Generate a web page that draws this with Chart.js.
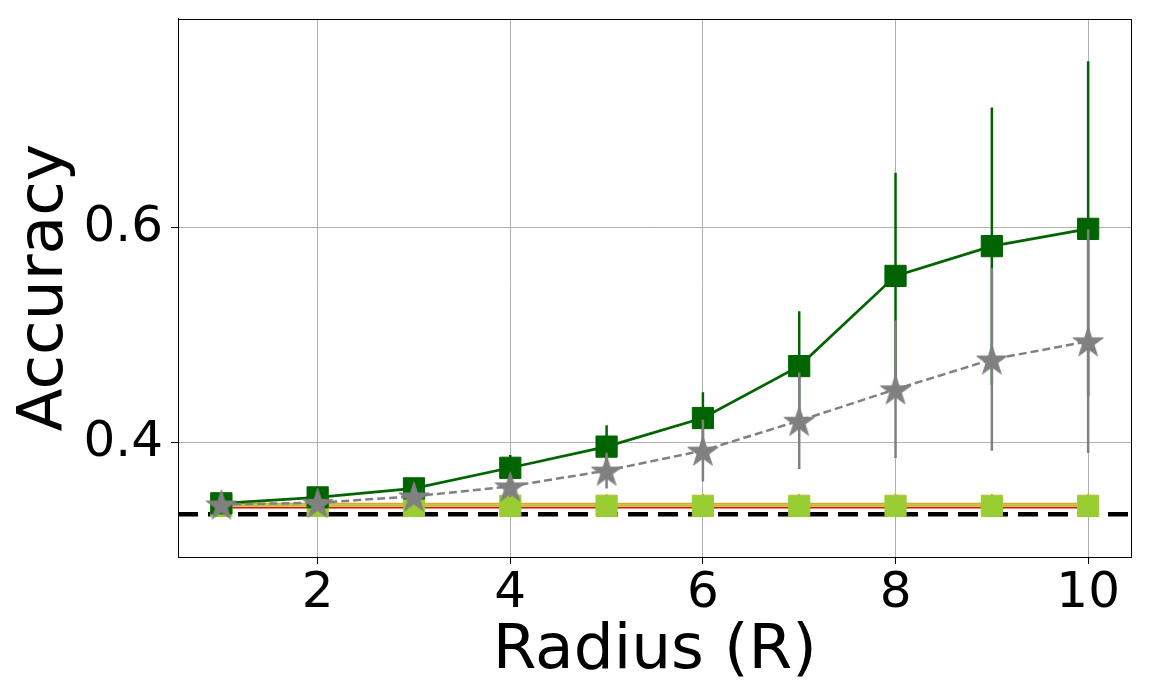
<!DOCTYPE html>
<html>
<head>
<meta charset="utf-8">
<script src="https://cdn.jsdelivr.net/npm/chart.js@4/dist/chart.umd.min.js"></script>
<style>
  html, body { margin: 0; padding: 0; background: #ffffff; }
  #wrap { width: 1150px; height: 700px; }
</style>
</head>
<body>
<div id="wrap"><canvas id="c" width="1150" height="700"></canvas></div>
<script>
// ---- data ----
const radius = [1, 2, 3, 4, 5, 6, 7, 8, 9, 10];
const greenAcc = [0.3435, 0.349, 0.3574, 0.3766, 0.3963, 0.4229, 0.4713, 0.5553, 0.5830, 0.5991];
const greenErr = [0.002, 0.003, 0.005, 0.012, 0.020, 0.024, 0.051, 0.096, 0.129, 0.156];
const grayAcc = [0.3425, 0.344, 0.350, 0.3593, 0.374, 0.3926, 0.4204, 0.4497, 0.4775, 0.4944];
const grayErr = [0.002, 0.003, 0.006, 0.010, 0.0166, 0.0287, 0.045, 0.064, 0.085, 0.104];
const yellowGreenAcc = [0.3412, 0.3412, 0.3412, 0.3412, 0.3412, 0.3412, 0.3412, 0.3412, 0.3412, 0.3412];
const orangeAcc = [0.3431, 0.3431, 0.3431, 0.3431, 0.3431, 0.3431, 0.3431, 0.3431, 0.3431, 0.3431];
const orangeErr = [0.009, 0.009, 0.009, 0.009, 0.009, 0.009, 0.009, 0.009, 0.009, 0.009];
const redAcc = [0.3394, 0.3394, 0.3394, 0.3394, 0.3394, 0.3394, 0.3394, 0.3394, 0.3394, 0.3394];
const chanceLevel = 0.3333;
const xTicks = [2, 4, 6, 8, 10];
const yTicks = [0.4, 0.6];
const xLimits = [0.55, 10.45];
const yLimits = [0.2935, 0.795];

// ---- helpers ----
function points(xs, ys) { return xs.map((x, i) => ({ x: x, y: ys[i] })); }
function errSegments(xs, ys, es) {
  const out = [];
  xs.forEach((x, i) => {
    out.push({ x: x, y: ys[i] - es[i] });
    out.push({ x: x, y: ys[i] + es[i] });
    out.push({ x: x, y: null });
  });
  return out;
}
function starImage(color, R) {
  const s = Math.ceil(R * 2 + 2);
  const cv = document.createElement('canvas');
  cv.width = s; cv.height = s;
  const g = cv.getContext('2d');
  const cx = s / 2, cy = s / 2 + R * 0.1, r = R * 0.382;
  g.beginPath();
  for (let k = 0; k < 10; k++) {
    const a = -Math.PI / 2 + k * Math.PI / 5;
    const rr = (k % 2 === 0) ? R : r;
    const px = cx + rr * Math.cos(a), py = cy + rr * Math.sin(a);
    if (k === 0) g.moveTo(px, py); else g.lineTo(px, py);
  }
  g.closePath();
  g.fillStyle = color;
  g.fill();
  g.lineWidth = 1;
  g.strokeStyle = color;
  g.stroke();
  return cv;
}

const FONT = "'DejaVu Sans', 'Liberation Sans', sans-serif";
const star = starImage('#808080', 16);

const frame = {
  id: 'frame',
  afterDraw(chart) {
    const a = chart.chartArea, ctx = chart.ctx;
    ctx.save();
    ctx.strokeStyle = '#000000';
    ctx.lineWidth = 1;
    ctx.strokeRect(Math.round(a.left) + 0.5, Math.round(a.top) + 0.5,
                   Math.round(a.right - a.left) - 1, Math.round(a.bottom - a.top) - 1);
    ctx.restore();
  }
};

new Chart(document.getElementById('c'), {
  type: 'line',
  data: {
    datasets: [
      { // gray stars, dashed
        data: points(radius, grayAcc),
        borderColor: '#808080', borderWidth: 2.5, borderDash: [8, 4],
        pointStyle: star, pointRadius: 16,
        backgroundColor: '#808080', pointBorderColor: '#808080'
      },
      { // gray error bars
        data: errSegments(radius, grayAcc, grayErr),
        borderColor: '#808080', borderWidth: 2.5, pointRadius: 0, spanGaps: false
      },
      { // dark green squares
        data: points(radius, greenAcc),
        borderColor: '#006400', borderWidth: 2.7,
        pointStyle: 'rect', pointRadius: 15, pointBorderWidth: 1,
        pointBackgroundColor: '#006400', pointBorderColor: '#006400'
      },
      { // dark green error bars
        data: errSegments(radius, greenAcc, greenErr),
        borderColor: '#006400', borderWidth: 2.5, pointRadius: 0, spanGaps: false
      },
      { // yellow-green squares
        data: points(radius, yellowGreenAcc),
        borderColor: '#9acd32', borderWidth: 2,
        pointStyle: 'rect', pointRadius: 15, pointBorderWidth: 1,
        pointBackgroundColor: '#9acd32', pointBorderColor: '#9acd32'
      },
      { // orange error bars
        data: errSegments(radius, orangeAcc, orangeErr),
        borderColor: '#ff8c00', borderWidth: 2, pointRadius: 0, spanGaps: false
      },
      { // orange line
        data: points(radius, orangeAcc),
        borderColor: '#e8a030', borderWidth: 2, pointRadius: 0
      },
      { // red line
        data: points(radius, redAcc),
        borderColor: '#ff0000', borderWidth: 1.5, pointRadius: 0
      },
      { // chance level
        data: [{ x: xLimits[0], y: chanceLevel }, { x: xLimits[1], y: chanceLevel }],
        borderColor: '#000000', borderWidth: 4.5, borderDash: [20, 10], pointRadius: 0
      }
    ]
  },
  options: {
    responsive: false,
    animation: false,
    devicePixelRatio: 1,
    layout: { padding: { left: 0, right: 15, top: 15, bottom: 0 } },
    plugins: { legend: { display: false }, tooltip: { enabled: false } },
    elements: { line: { tension: 0, fill: false } },
    scales: {
      x: {
        type: 'linear', position: 'bottom',
        min: xLimits[0], max: xLimits[1],
        afterBuildTicks: (s) => { s.ticks = xTicks.map(v => ({ value: v })); },
        afterFit: (s) => { s.height = 143; s.paddingLeft = 0; s.paddingRight = 0; },
        ticks: { font: { family: FONT, size: 50 }, color: '#000000', padding: 0,
                 maxRotation: 0, autoSkip: false, callback: (v) => String(v) },
        grid: { color: '#b0b0b0', lineWidth: 1, tickColor: '#000000', tickLength: 7 },
        border: { display: true, color: '#000000', width: 1 },
        title: { display: true, text: 'Radius (R)', color: '#000000',
                 font: { family: FONT, size: 63 }, padding: { top: 0, bottom: 11 } }
      },
      y: {
        type: 'linear', position: 'left',
        min: yLimits[0], max: yLimits[1],
        afterBuildTicks: (s) => { s.ticks = yTicks.map(v => ({ value: v })); },
        afterFit: (s) => { s.width = 178; s.paddingTop = 0; s.paddingBottom = 0; },
        ticks: { font: { family: FONT, size: 50 }, color: '#000000', padding: 8,
                 callback: (v) => v.toFixed(1) },
        grid: { color: '#b0b0b0', lineWidth: 1, tickColor: '#000000', tickLength: 7 },
        border: { display: true, color: '#000000', width: 1 },
        title: { display: true, text: 'Accuracy', color: '#000000',
                 font: { family: FONT, size: 63 }, padding: { top: 8, bottom: 0 } }
      }
    }
  },
  plugins: [frame]
});
</script>
</body>
</html>
